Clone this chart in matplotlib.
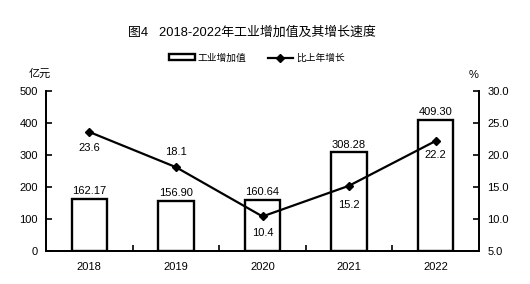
import matplotlib
matplotlib.use('Agg')
import matplotlib.pyplot as plt
from matplotlib.patches import Patch
from matplotlib.lines import Line2D
from matplotlib.ticker import FixedLocator

plt.rcParams['font.family'] = ['Liberation Sans', 'Noto Sans CJK SC']

# data
years = ['2018', '2019', '2020', '2021', '2022']
value_added = [162.17, 156.90, 160.64, 308.28, 409.30]
growth = [23.6, 18.1, 10.4, 15.2, 22.2]
# label above (+) or below (-) each growth point
growth_label_offset = [-16, 15, -17, -19, -14]

fig = plt.figure(figsize=(5.30, 2.84), dpi=100)
ax = fig.add_axes([0.0868, 0.1162, 0.817, 0.5634])
ax2 = ax.twinx()

x = list(range(len(years)))
ax.bar(x, value_added, width=0.41, color='white', edgecolor='black', linewidth=1.7, zorder=2)
for xi, v in zip(x, value_added):
    ax.annotate(f'{v:.2f}', (xi, v), xytext=(0, 2), textcoords='offset points',
                ha='center', va='bottom', fontsize=8)

ax2.plot(x, growth, color='black', linewidth=1.6, marker='D', markersize=4.5, zorder=3)
for xi, g, off in zip(x, growth, growth_label_offset):
    ax2.annotate(f'{g:.1f}', (xi, g), xytext=(0, off * 0.72), textcoords='offset points',
                 ha='center', va='center', fontsize=8)

ax.set_xlim(-0.5, 4.5)
ax.set_ylim(0, 500)
ax2.set_ylim(5, 30)
ax.set_yticks([0, 100, 200, 300, 400, 500])
ax2.set_yticks([5, 10, 15, 20, 25, 30])
ax2.set_yticklabels([f'{t:.1f}' for t in [5, 10, 15, 20, 25, 30]])
ax.set_xticks(x)
ax.set_xticklabels(years)
ax.xaxis.set_minor_locator(FixedLocator([0.5, 1.5, 2.5, 3.5]))

ax.tick_params(axis='x', which='major', length=0, labelsize=8, pad=8)
ax.tick_params(axis='x', which='minor', direction='in', length=4, width=1.2)
ax.tick_params(axis='y', direction='in', length=4, width=1.2, labelsize=8, pad=6)
ax2.tick_params(axis='y', direction='in', length=4, width=1.2, labelsize=8, pad=6)

for a in (ax, ax2):
    a.spines['top'].set_visible(False)
    for s in ('left', 'right', 'bottom'):
        a.spines[s].set_linewidth(1.3)

fig.text(0.475, 0.885, '图4   2018-2022年工业增加值及其增长速度', ha='center', va='center', fontsize=9.3)
fig.text(0.075, 0.742, '亿元', ha='center', va='center', fontsize=8)
fig.text(0.893, 0.735, '%', ha='center', va='center', fontsize=8)

handles = [Patch(facecolor='white', edgecolor='black', linewidth=1.7),
           Line2D([], [], color='black', linewidth=1.6, marker='D', markersize=4)]
fig.legend(handles, ['工业增加值', '比上年增长'], loc='center', bbox_to_anchor=(0.485, 0.797),
           ncol=2, frameon=False, fontsize=7, handlelength=2.6, handleheight=0.5,
           columnspacing=2.2, handletextpad=0.3)

fig.savefig('out.png', dpi=100)
